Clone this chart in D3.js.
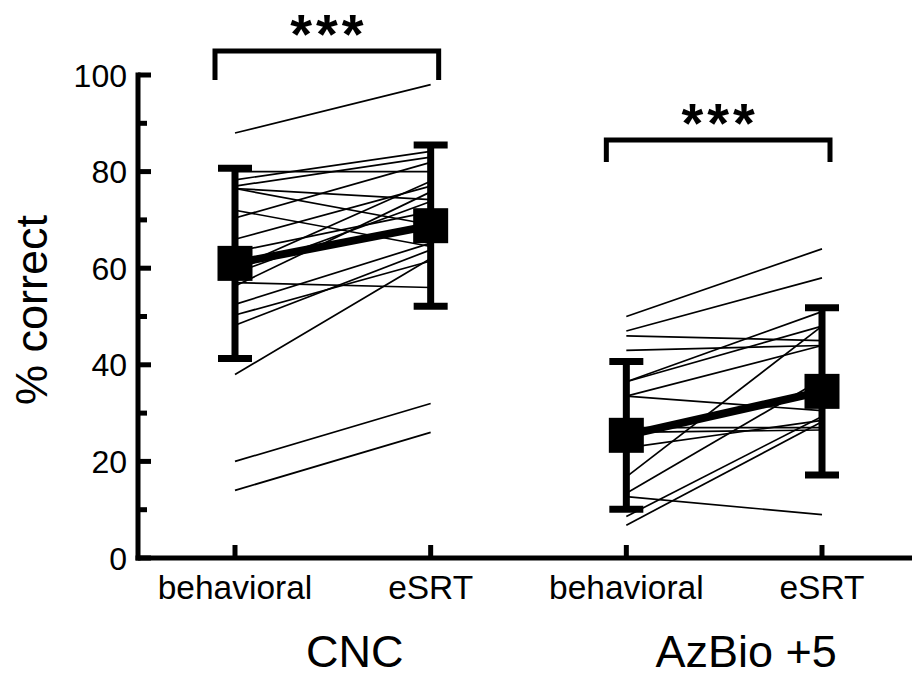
<!DOCTYPE html>
<html>
<head>
<meta charset="utf-8">
<script src="https://cdn.jsdelivr.net/npm/d3@7"></script>
<style>
  html, body { margin: 0; padding: 0; background: #fff; }
  svg { display: block; font-family: "Liberation Sans", Arial, sans-serif; }
</style>
</head>
<body>
<svg id="chart" width="912" height="677"></svg>
<script>
// ---------- data ----------
const tests = ["CNC", "AzBio +5"];
const conditions = ["behavioral", "eSRT"];
const yTicks = [0, 20, 40, 60, 80, 100];
const significance = ["***", "***"];

// individual subjects: [behavioral, eSRT]
const cncBehavioral = [88, 80, 78.3, 77, 76.5, 76.5, 72, 70.4, 66, 63.4, 60, 59, 56.3, 52.5, 50.3, 48.2, 38, 20, 14, 57];
const cncESRT       = [98, 80, 84.2, 83, 74.2, 69, 64.5, 81.9, 77, 71.7, 78, 73.8, 75.8, 65.2, 61.5, 63.8, 62, 32, 26, 56];
const azBehavioral  = [50, 47, 46, 43, 36.5, 36.5, 33.5, 33.5, 27, 26, 22.8, 16.8, 13.4, 12.7, 8.6, 6.8];
const azESRT        = [64, 58, 45, 44, 51, 48, 44, 30.5, 27, 26.5, 28.5, 48, 37, 9, 29.3, 28.2];

// group means and SDs [behavioral, eSRT]
const cncMean = [61, 68.8];
const cncSD   = [19.7, 16.7];
const azMean  = [25.4, 34.5];
const azSD    = [15.3, 17.3];

// ---------- layout ----------
const svg = d3.select("#chart");
const y = d3.scaleLinear().domain([0, 100]).range([558, 75]);
const keys = [];
tests.forEach(t => conditions.forEach(c => keys.push(t + "|" + c)));
const x = d3.scalePoint().domain(keys).range([235, 822]);

const axisX0 = 138;

// ---------- individual lines ----------
const groups = [
  { test: tests[0], b: cncBehavioral, e: cncESRT, mean: cncMean, sd: cncSD },
  { test: tests[1], b: azBehavioral, e: azESRT, mean: azMean, sd: azSD }
];

groups.forEach(g => {
  const xb = x(g.test + "|" + conditions[0]);
  const xe = x(g.test + "|" + conditions[1]);
  svg.append("g").selectAll("line")
    .data(d3.zip(g.b, g.e))
    .join("line")
    .attr("x1", xb).attr("x2", xe)
    .attr("y1", d => y(d[0])).attr("y2", d => y(d[1]))
    .attr("stroke", "#000").attr("stroke-width", 1.7);
});

// ---------- means, error bars ----------
groups.forEach(g => {
  const xs = conditions.map(c => x(g.test + "|" + c));
  const gg = svg.append("g");
  gg.append("line")
    .attr("x1", xs[0]).attr("x2", xs[1])
    .attr("y1", y(g.mean[0])).attr("y2", y(g.mean[1]))
    .attr("stroke", "#000").attr("stroke-width", 8);
  xs.forEach((xx, i) => {
    const top = y(g.mean[i] + g.sd[i]);
    const bot = y(g.mean[i] - g.sd[i]);
    gg.append("line").attr("x1", xx).attr("x2", xx).attr("y1", top).attr("y2", bot)
      .attr("stroke", "#000").attr("stroke-width", 7);
    [top, bot].forEach(yy => {
      gg.append("line").attr("x1", xx - 17).attr("x2", xx + 17).attr("y1", yy).attr("y2", yy)
        .attr("stroke", "#000").attr("stroke-width", 7);
    });
    gg.append("rect")
      .attr("x", xx - 17.5).attr("y", y(g.mean[i]) - 17.5)
      .attr("width", 35).attr("height", 35).attr("fill", "#000");
  });
});

// ---------- axes ----------
const yAxis = svg.append("g");
yAxis.append("line").attr("x1", axisX0).attr("x2", axisX0)
  .attr("y1", y(100) - 2.5).attr("y2", y(0) + 2.5)
  .attr("stroke", "#000").attr("stroke-width", 5);
yAxis.selectAll("line.tick")
  .data(d3.range(0, 101, 10))
  .join("line").attr("class", "tick")
  .attr("x1", axisX0).attr("x2", d => axisX0 + (d % 20 === 0 ? 13 : 9))
  .attr("y1", d => y(d)).attr("y2", d => y(d))
  .attr("stroke", "#000").attr("stroke-width", 5);
yAxis.selectAll("text")
  .data(yTicks)
  .join("text")
  .attr("x", 127).attr("y", d => y(d)).attr("dy", "0.36em")
  .attr("text-anchor", "end").attr("font-size", 32).attr("fill", "#000")
  .text(d => d);

const xAxis = svg.append("g");
xAxis.append("line").attr("x1", axisX0 - 2.5).attr("x2", 912)
  .attr("y1", y(0)).attr("y2", y(0))
  .attr("stroke", "#000").attr("stroke-width", 5);
xAxis.selectAll("line.tick")
  .data(keys).join("line").attr("class", "tick")
  .attr("x1", d => x(d)).attr("x2", d => x(d))
  .attr("y1", y(0)).attr("y2", y(0) - 13)
  .attr("stroke", "#000").attr("stroke-width", 5);
xAxis.selectAll("text.cond")
  .data(keys).join("text").attr("class", "cond")
  .attr("x", d => x(d)).attr("y", 599)
  .attr("text-anchor", "middle").attr("font-size", 33.5).attr("fill", "#000")
  .text(d => d.split("|")[1]);
xAxis.selectAll("text.test")
  .data(tests).join("text").attr("class", "test")
  .attr("x", t => (x(t + "|" + conditions[0]) + x(t + "|" + conditions[1])) / 2 + 22)
  .attr("y", 667)
  .attr("text-anchor", "middle").attr("font-size", 45).attr("fill", "#000")
  .text(t => t);

// y label
svg.append("text")
  .attr("transform", "translate(47,310) rotate(-90)")
  .attr("text-anchor", "middle").attr("font-size", 45).attr("fill", "#000")
  .text("% correct");

// ---------- significance brackets ----------
const bracketY = [51, 140];
const bracketBottom = [80, 162];
tests.forEach((t, i) => {
  const xl = x(t + "|" + conditions[0]) - 20;
  const xr = x(t + "|" + conditions[1]) + 8;
  svg.append("path")
    .attr("d", `M${xl},${bracketBottom[i]}V${bracketY[i]}H${xr}V${bracketBottom[i]}`)
    .attr("fill", "none").attr("stroke", "#000").attr("stroke-width", 5);
  svg.append("text")
    .attr("x", (xl + xr) / 2 + 2).attr("y", bracketY[i] + 2)
    .attr("text-anchor", "middle").attr("font-size", 56).attr("font-weight", "bold")
    .attr("letter-spacing", 4)
    .attr("fill", "#000")
    .text(significance[i]);
});
</script>
</body>
</html>
